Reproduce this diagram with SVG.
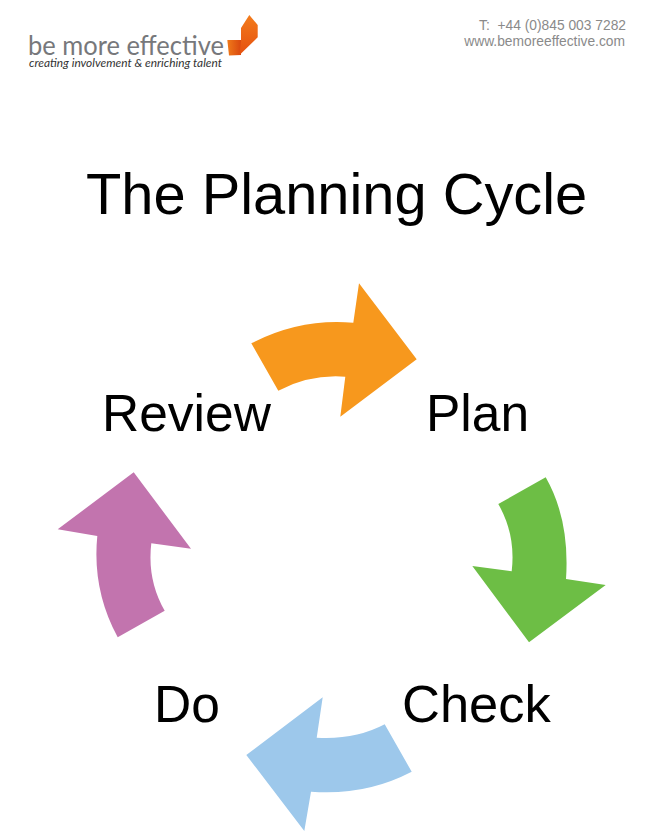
<svg xmlns="http://www.w3.org/2000/svg" width="662" height="840" viewBox="0 0 662 840">
<defs>
<linearGradient id="fold" x1="0" y1="0" x2="1" y2="0"><stop offset="0" stop-color="#f07a1a"/><stop offset="1" stop-color="#d9480f"/></linearGradient>
<linearGradient id="tip" x1="0" y1="0" x2="0" y2="1"><stop offset="0" stop-color="#f37c1c"/><stop offset="1" stop-color="#e5500f"/></linearGradient>
</defs>
<style>
text{font-family:"Liberation Sans",Arial,sans-serif}
.big{font-size:51.5px;fill:#000}
.contact{font-size:13.8px;fill:#8a8a8a;text-anchor:end}
</style>
<rect width="662" height="840" fill="#fff"/>
<g id="logo">
<text x="28" y="54.5" textLength="196" lengthAdjust="spacingAndGlyphs" style="font-family:'Lato',sans-serif;font-size:27px;fill:#77787b">be more effective</text>
<text x="29" y="67" textLength="193" lengthAdjust="spacingAndGlyphs" style="font-family:'Lato',sans-serif;font-size:12.4px;font-style:italic;fill:#333">creating involvement &amp; enriching talent</text>
<polygon points="227.3,40 241,40 241,55 229,55.5" fill="url(#fold)"/>
<polygon points="241,28 249.3,15 257.7,25 257.7,37.3 239.5,55 241,40" fill="url(#tip)"/>
</g>
<g id="contact">
<text class="contact" x="626" y="30" xml:space="preserve">T:  +44 (0)845 003 7282</text>
<text class="contact" x="625" y="46">www.bemoreeffective.com</text>
</g>
<text id="title" x="86" y="214" style="font-size:57.8px;fill:#000">The Planning Cycle</text>
<g id="connectors">
<path id="arrow-plan" fill="#f7981d" d="M251.3,343.3Q300,318 353.3,322.7L359,283.3L416.7,359.3L340.3,416.7L345.3,376.7Q310,374 278.3,390.7Z"/>
<path id="arrow-check" fill="#6dbe45" d="M498.3,504L545.7,477.3Q570,520 566,579L605.7,585L529,642.3L472.3,566L511.7,571.3Q516,535 498.3,504Z"/>
<path id="arrow-do" fill="#9dc8eb" d="M322.7,697.3L246.3,755L304.3,831L311,791.7Q365,796 411.7,771.7L384.7,724.3Q355,740 316.7,737.7Z"/>
<path id="arrow-review" fill="#c274ae" d="M133.7,472.3L57.7,529.3L97.3,536Q92,590 117.7,637.3L164.7,610.7Q147,580 151.3,543.3L191,548.7Z"/>
</g>
<g id="node-plan"><text class="big" x="426" y="431">Plan</text></g>
<g id="node-check"><text class="big" x="402" y="722" style="font-size:52.5px">Check</text></g>
<g id="node-do"><text class="big" x="154" y="722">Do</text></g>
<g id="node-review"><text class="big" x="102" y="431">Review</text></g>
</svg>
